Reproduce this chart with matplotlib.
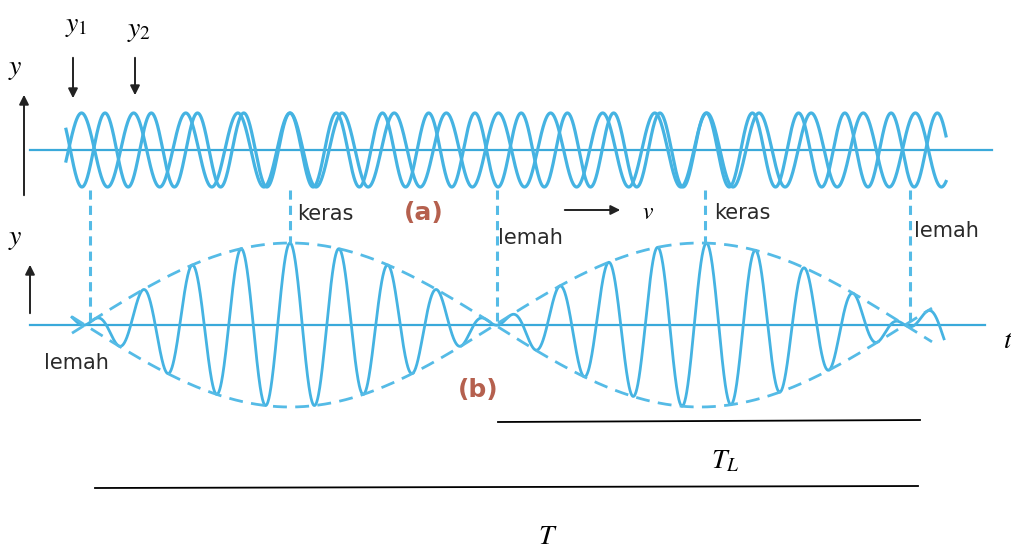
import matplotlib.pyplot as plt
import numpy as np

# beat picture parameters (pixel units of the original drawing)
node_x = [90, 497, 910]        # lemah (weak) points
loud_x = [290, 705]            # keras (loud) points
beat_len = 410                 # distance between two lemah points
wave_len = 49                  # period of the carrier wave
amp_a = 37                     # amplitude of y1, y2 in (a)
amp_b = 82                     # amplitude of sum in (b)
base_a = 150
base_b = 325
span_a = [66, 946]
span_b = [72, 944]
env_span = [72, 932]

wave_col = '#45b3e2'
base_col = '#3aa9da'
dash_col = '#55bbe6'
tag_col = '#b5604e'

plt.rcParams['mathtext.fontset'] = 'stix'

fig = plt.figure(figsize=(10.12, 5.49), dpi=100)
ax = fig.add_axes([0, 0, 1, 1])
ax.set_xlim(0, 1012)
ax.set_ylim(549, 0)
ax.axis('off')

df = 1.0 / beat_len
f0 = 1.0 / wave_len
f1 = f0 + df / 2
f2 = f0 - df / 2

# (a) two separate waves
xa = np.linspace(span_a[0], span_a[1], 3000)
d = xa - loud_x[0]
ax.plot([30, 992], [base_a, base_a], color=base_col, lw=1.6)
ax.plot(xa, base_a - amp_a * np.cos(2 * np.pi * f1 * d), color=wave_col, lw=2.3)
ax.plot(xa, base_a - amp_a * np.cos(2 * np.pi * f2 * d), color=wave_col, lw=2.3)

# (b) superposition
xb = np.linspace(span_b[0], span_b[1], 3000)
d = xb - loud_x[0]
env = np.cos(np.pi * df * d)
ax.plot([30, 985], [base_b, base_b], color=base_col, lw=1.6)
ax.plot(xb, base_b - amp_b * env * np.cos(2 * np.pi * f0 * d), color=wave_col, lw=2.0)
xe = np.linspace(env_span[0], env_span[1], 1000)
e = np.abs(np.cos(np.pi * df * (xe - loud_x[0])))
ax.plot(xe, base_b - amp_b * e, color=dash_col, lw=2.0, ls=(0, (5, 3)))
ax.plot(xe, base_b + amp_b * e, color=dash_col, lw=2.0, ls=(0, (5, 3)))

# dashed connectors
for x in node_x:
    ax.plot([x, x], [190, base_b - 4], color=dash_col, lw=2.2, ls=(0, (3, 2)))
for x in loud_x:
    ax.plot([x, x], [190, base_b - amp_b], color=dash_col, lw=2.2, ls=(0, (3, 2)))

# axis arrows
arr = dict(arrowstyle='-|>', color='#222222', lw=1.4, mutation_scale=14)
ax.annotate('', xy=(24, 92), xytext=(24, 198), arrowprops=arr)
ax.annotate('', xy=(30, 262), xytext=(30, 316), arrowprops=arr)
ax.annotate('', xy=(73, 101), xytext=(73, 55), arrowprops=arr)
ax.annotate('', xy=(135, 98), xytext=(135, 55), arrowprops=arr)
ax.annotate('', xy=(623, 210), xytext=(562, 210), arrowprops=arr)

serif = dict(fontsize=20, color='black', ha='center', va='center')
ax.text(15, 68, '$y$', **serif)
ax.text(15, 238, '$y$', **serif)
ax.text(76, 25, '$y_{\\mathit{1}}$', **serif)
ax.text(139, 30, '$y_{\\mathit{2}}$', **serif)
ax.text(648, 212, '$v$', fontsize=17, color='black', ha='center', va='center')
ax.text(1003, 340, '$t$', fontsize=20, color='black', ha='left', va='center')
ax.text(725, 460, '$T_L$', **serif)
ax.text(548, 536, '$T$', **serif)

sans = dict(fontsize=15, color='#2a2a2a', family='DejaVu Sans', va='center')
ax.text(297, 214, 'keras', **sans)
ax.text(498, 238, 'lemah', **sans)
ax.text(714, 213, 'keras', **sans)
ax.text(914, 231, 'lemah', **sans)
ax.text(44, 363, 'lemah', **sans)
ax.text(404, 213, '(a)', fontsize=18, color=tag_col, fontweight='bold',
        family='DejaVu Sans', va='center')
ax.text(478, 390, '(b)', fontsize=18, color=tag_col, fontweight='bold',
        family='DejaVu Sans', va='center', ha='center')

# period bars
ax.plot([498, 920], [422, 420], color='black', lw=1.3)
ax.plot([95, 918], [488, 486], color='black', lw=1.3)

fig.savefig('out.png', dpi=100)
